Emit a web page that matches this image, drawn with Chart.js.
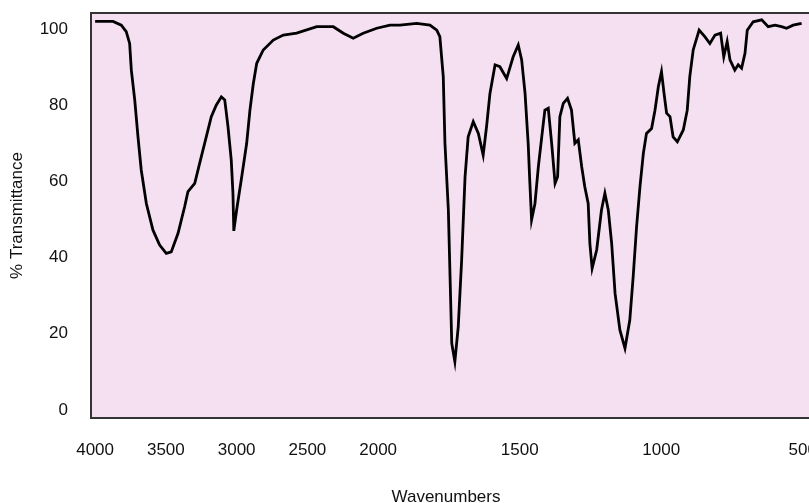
<!DOCTYPE html>
<html>
<head>
<meta charset="utf-8">
<script src="https://cdn.jsdelivr.net/npm/chart.js@4/dist/chart.umd.min.js"></script>
<style>
  html, body { margin: 0; padding: 0; background: #fff; overflow: hidden; }
  #wrap { position: relative; width: 830px; height: 503px; }
</style>
</head>
<body>
<div id="wrap"><canvas id="irChart"></canvas></div>

<script>
// IR spectrum (wavenumber in cm-1, % transmittance)
const wavenumbers = [
  4000, 3873, 3815, 3780, 3756, 3744, 3720, 3697, 3674, 3638, 3591, 3544, 3497, 3462,
  3414, 3367, 3344, 3296, 3261, 3226, 3179, 3144, 3108, 3084, 3061, 3038, 3026, 3020,
  3000, 2964, 2929, 2906, 2882, 2858, 2812, 2741, 2670, 2576, 2434, 2317, 2246, 2176,
  2106, 2010, 1958, 1923, 1864, 1817, 1793, 1782, 1770, 1764, 1752, 1746, 1740, 1729,
  1717, 1705, 1693, 1682, 1664, 1646, 1629, 1617, 1605, 1587, 1570, 1546, 1523, 1505,
  1493, 1481, 1470, 1464, 1458, 1446, 1434, 1422, 1411, 1399, 1387, 1375, 1366, 1358,
  1346, 1331, 1317, 1305, 1293, 1281, 1270, 1258, 1252, 1244, 1228, 1211, 1199, 1187,
  1175, 1163, 1146, 1128, 1111, 1099, 1087, 1075, 1063, 1052, 1034, 1022, 1010, 999,
  990, 981, 969, 958, 943, 922, 908, 899, 887, 866, 846, 828, 810, 790,
  779, 767, 757, 740, 728, 716, 704, 696, 675, 645, 622, 598, 575, 557,
  534, 504
];
const transmittance = [
  102, 102, 101, 99.3, 96.2, 89.2, 81.4, 71.7, 63, 54.2, 47.2, 43.3, 41.1, 41.5,
  46.4, 53.4, 57.3, 59.5, 64.8, 70, 77, 80, 82.2, 81.4, 74.4, 65.6, 56.9, 47,
  52.5, 61.2, 70, 78.7, 85.7, 91, 94.5, 97.1, 98.4, 98.9, 100.6, 100.6, 98.9, 97.6,
  98.9, 100.2, 101, 101, 101.5, 101, 99.7, 98, 87.5, 70, 52.5, 35, 17.5, 12.7,
  21.9, 39.4, 61.2, 71.7, 75.7, 72.6, 66.9, 74.4, 83.1, 90.6, 90.1, 87, 92.7, 95.8,
  91.9, 83.1, 70, 59.5, 49.9, 54.2, 63.9, 71.7, 78.7, 79.2, 70, 59.5, 61.2, 77,
  80.5, 81.8, 78.7, 70, 70.9, 63.9, 58.6, 54.2, 43.7, 37.2, 42, 52.5, 56.9, 52.5,
  43.7, 30.6, 21, 16.2, 23.6, 35, 48.1, 58.6, 67.4, 72.6, 73.9, 78.7, 84.9, 88.8,
  83.1, 77.9, 77, 71.7, 70.4, 73.5, 78.7, 87.5, 94.5, 99.7, 98, 96.2, 98.4, 98.9,
  92.7, 96.7, 91.9, 89.2, 90.6, 89.7, 93.6, 99.7, 101.9, 102.4, 100.6, 101, 100.6, 100.2,
  101, 101.5
];
const xTicks = [4000, 3500, 3000, 2500, 2000, 1500, 1000, 500];
const yTicks = [0, 20, 40, 60, 80, 100];

// axis is compressed by 2x above 2000 cm-1 (usual IR layout)
const U_MIN = -14.5, U_MAX = 2561;
function toUnit(w) { return w >= 2000 ? (4000 - w) / 2 : 3000 - w; }
function fromUnit(u) { return u <= 1000 ? 4000 - 2 * u : 3000 - u; }

class WavenumberScale extends Chart.LinearScale {
  getPixelForValue(v) {
    return this.left + (toUnit(v) - U_MIN) / (U_MAX - U_MIN) * this.width;
  }
  getValueForPixel(p) {
    return fromUnit(U_MIN + (p - this.left) / this.width * (U_MAX - U_MIN));
  }
}
WavenumberScale.id = 'wavenumber';
WavenumberScale.defaults = Chart.LinearScale.defaults;
Chart.register(WavenumberScale);

const FONT = '"Liberation Sans", Arial, sans-serif';

const frame = {
  id: 'frame',
  beforeDraw(chart) {
    const a = chart.chartArea, ctx = chart.ctx;
    ctx.save();
    ctx.fillStyle = '#f4e0f1';
    ctx.fillRect(a.left, a.top, a.right - a.left, a.bottom - a.top);
    ctx.restore();
  },
  afterDraw(chart) {
    const a = chart.chartArea, ctx = chart.ctx;
    ctx.save();
    ctx.strokeStyle = '#333';
    ctx.lineWidth = 2;
    ctx.strokeRect(a.left, a.top, a.right - a.left, a.bottom - a.top);
    ctx.fillStyle = '#111';
    ctx.font = '17px ' + FONT;
    ctx.textAlign = 'center';
    ctx.textBaseline = 'alphabetic';
    ctx.fillText('Wavenumbers', 446, 502);
    ctx.restore();
  }
};

const points = wavenumbers.map((w, i) => ({ x: w, y: transmittance[i] }));

new Chart(document.getElementById('irChart'), {
  type: 'line',
  data: {
    datasets: [{
      data: points,
      borderColor: '#000',
      borderWidth: 2.8,
      pointRadius: 0,
      tension: 0,
      fill: false
    }]
  },
  options: {
    responsive: true,
    maintainAspectRatio: false,
    animation: false,
    layout: { padding: { top: 13, right: 10, left: 0, bottom: 0 } },
    plugins: { legend: { display: false }, tooltip: { enabled: false } },
    scales: {
      x: {
        type: 'wavenumber',
        grid: { display: false, drawTicks: false },
        border: { display: false },
        afterFit: s => { s.height = 85; s.paddingLeft = 0; s.paddingRight = 0; },
        afterBuildTicks: s => { s.ticks = xTicks.map(v => ({ value: v })); },
        ticks: {
          autoSkip: false,
          maxRotation: 0,
          padding: 22,
          color: '#111',
          font: { family: FONT, size: 17 },
          callback: v => String(v)
        }
      },
      y: {
        min: -2.1,
        max: 104.2,
        grid: { display: false, drawTicks: false },
        border: { display: false },
        afterFit: s => { s.width = 91; s.paddingTop = 0; s.paddingBottom = 0; },
        afterBuildTicks: s => { s.ticks = yTicks.map(v => ({ value: v })); },
        title: {
          display: true,
          text: '% Transmittance',
          color: '#111',
          font: { family: FONT, size: 17 },
          padding: { top: 7, bottom: 0 }
        },
        ticks: {
          padding: 23,
          color: '#111',
          font: { family: FONT, size: 17 },
          callback: v => String(v)
        }
      }
    }
  },
  plugins: [frame]
});
</script>
</body>
</html>
